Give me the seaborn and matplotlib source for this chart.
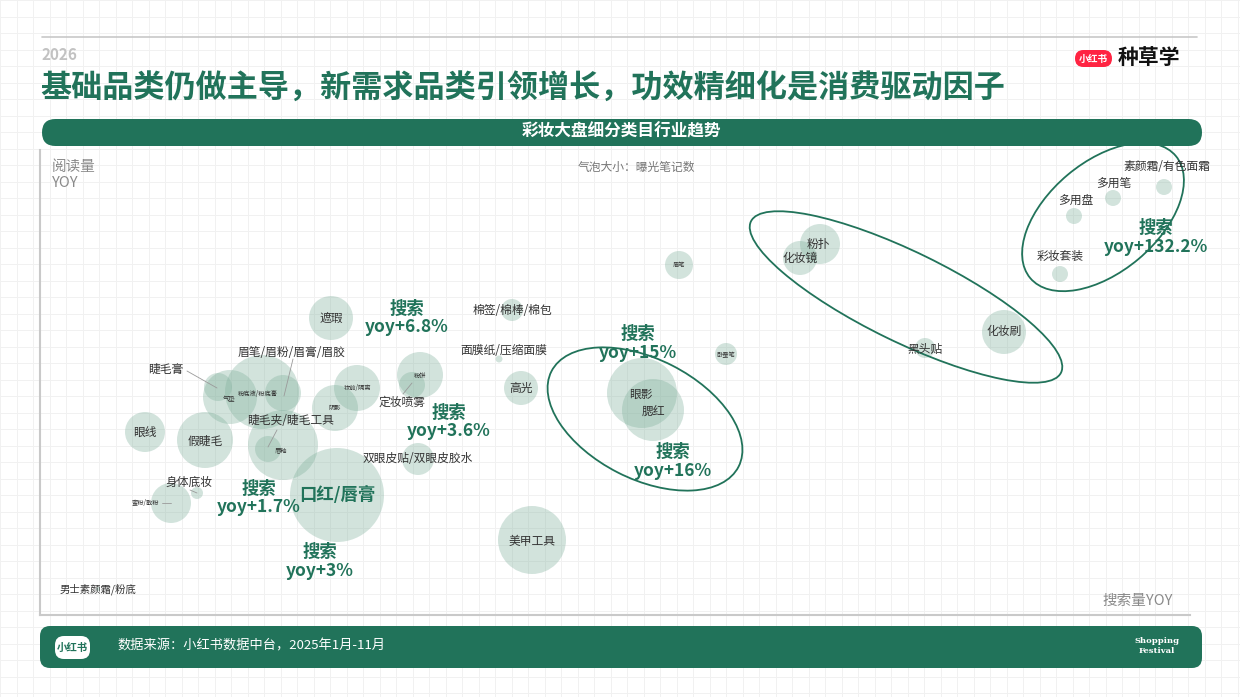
import numpy as np
import pandas as pd
import matplotlib
matplotlib.use('Agg')
import matplotlib.pyplot as plt
from matplotlib.patches import FancyBboxPatch, Ellipse
import seaborn as sns

sns.set_style('white')
plt.rcParams['font.family'] = ['Noto Sans CJK SC', 'DejaVu Sans']

GREEN = '#21735a'
BUBBLE = '#7fb09c'
LABEL = '#333333'

## 数据: 搜索量YOY(横轴), 阅读量YOY(纵轴), 曝光笔记数(气泡面积)
categories = ['遮瑕', '睫毛膏', '气垫', '粉底液/粉底膏', '眉笔/眉粉/眉膏/眉胶', '睫毛夹/睫毛工具',
              '唇釉', '妆前/隔离', '阴影', '粉饼', '定妆喷雾', '眼线', '假睫毛', '双眼皮贴/双眼皮胶水',
              '身体底妆', '蜜粉/散粉', '口红/唇膏', '美甲工具', '高光', '面膜纸/压缩面膜', '棉签/棉棒/棉包',
              '眉笔', '卧蚕笔', '眼影', '腮红', '粉扑', '化妆镜', '黑头贴', '化妆刷',
              '多用盘', '多用笔', '素颜霜/有色面霜', '彩妆套装', '男士素颜霜/粉底']
search_yoy = [291, 178, 190, 222, 243, 243, 228, 317, 295, 380, 372, 105, 165, 378,
              157, 131, 297, 492, 481, 459, 472, 639, 686, 602, 613, 780, 760, 885, 964,
              1034, 1073, 1124, 1020, 58]
read_yoy = [297, 228, 218, 223, 222, 170, 166, 227, 207, 240, 230, 183, 175, 156,
            122, 112, 120, 75, 227, 256, 305, 350, 261, 222, 205, 371, 357, 267, 283,
            399, 417, 428, 341, 26]
exposure = [484, 196, 729, 1369, 324, 1225, 169, 529, 529, 529, 169, 400, 784, 256,
            36, 400, 2209, 1156, 289, 12, 121, 196, 121, 1225, 961, 400, 289, 100, 484,
            64, 64, 64, 64, 4]

df = pd.DataFrame({'品类': categories, '搜索量YOY': search_yoy,
                   '阅读量YOY': read_yoy, '曝光笔记数': exposure})

# 标签位置 (name: x, y, 字号)
label_pos = {
    '遮瑕': (291, 297, 8.5), '睫毛膏': (126, 246, 8.5), '气垫': (189, 216, 4.5),
    '粉底液/粉底膏': (218, 221, 4.5), '眉笔/眉粉/眉膏/眉胶': (252, 262, 8.5),
    '睫毛夹/睫毛工具': (251, 194, 8.5), '唇釉': (241, 165, 4.5), '妆前/隔离': (317, 227, 4.5),
    '阴影': (295, 207, 4.5), '粉饼': (380, 239, 4.5), '定妆喷雾': (362, 213, 8.5),
    '眼线': (105, 183, 8.5), '假睫毛': (165, 174, 8.5), '双眼皮贴/双眼皮胶水': (378, 156, 8.5),
    '身体底妆': (149, 133, 8.5), '蜜粉/散粉': (105, 112, 4.5), '美甲工具': (492, 74, 8.5),
    '高光': (481, 227, 8.5), '面膜纸/压缩面膜': (464, 264, 8.5), '棉签/棉棒/棉包': (472, 305, 8.5),
    '眉笔': (639, 350, 4.5), '卧蚕笔': (686, 260, 4.5), '眼影': (601, 221, 8.5),
    '腮红': (613, 204, 8.5), '粉扑': (778, 371, 8.5), '化妆镜': (760, 357, 8.5),
    '黑头贴': (885, 266, 8.5), '化妆刷': (964, 284, 8.5), '多用盘': (1036, 415, 8.5),
    '多用笔': (1074, 432, 8.5), '素颜霜/有色面霜': (1127, 448, 8.5), '彩妆套装': (1020, 359, 8.5),
    '男士素颜霜/粉底': (58, 26, 7.5),
}
leaders = [((147, 244), (177, 227)), ((253, 256), (244, 219)), ((237, 185), (228, 168)),
           ((372, 232), (363, 221)), ((150, 125), (157, 122)), ((122, 112), (131, 112))]

# 搜索yoy 标注
search_notes = [('6.8%', 367, 297), ('3.6%', 409, 193), ('1.7%', 219, 117), ('3%', 280, 54),
                ('15%', 598, 272), ('16%', 633, 154), ('132.2%', 1116, 378)]
groups = [((605, 196), 210, 120, -27), ((866, 318), 345, 90, -26), ((1063, 398), 190, 110, 40)]

fig = plt.figure(figsize=(12.4, 6.97), dpi=100)

# 背景网格
bg = fig.add_axes([0, 0, 1, 1])
bg.set_xlim(0, 1240)
bg.set_ylim(697, 0)
bg.set_xticks(np.arange(0, 1240, 16.5))
bg.set_yticks(np.arange(0, 697, 16.5))
bg.grid(True, color='#f1f1f1', lw=0.7)
bg.tick_params(length=0, labelbottom=False, labelleft=False)
for s in bg.spines.values():
    s.set_visible(False)

# 页眉
bg.plot([42, 1197], [37, 37], color='#c8c8c8', lw=1.2)
bg.text(42, 55, '2026', fontsize=11, fontweight='bold', color='#c2c2c2', va='center')
bg.text(40, 89, '基础品类仍做主导，新需求品类引领增长，功效精细化是消费驱动因子',
        fontsize=22.4, fontweight='bold', color=GREEN, va='center')
bg.add_patch(FancyBboxPatch((1075, 50), 37, 17, boxstyle='round,pad=0,rounding_size=8.5',
                            fc='#ff2442', ec='none'))
bg.text(1093.5, 58.5, '小红书', fontsize=7, fontweight='bold', color='white', ha='center', va='center')
bg.text(1118, 58, '种草学', fontsize=15, fontweight='bold', color='#111111', va='center')
bg.add_patch(FancyBboxPatch((42, 119), 1160, 27, boxstyle='round,pad=0,rounding_size=13.5',
                            fc=GREEN, ec='none'))
bg.text(621, 132, '彩妆大盘细分类目行业趋势', fontsize=12, fontweight='bold', color='white',
        ha='center', va='center')

# 页脚
bg.add_patch(FancyBboxPatch((40, 626), 1162, 42, boxstyle='round,pad=0,rounding_size=10',
                            fc=GREEN, ec='none'))
bg.add_patch(FancyBboxPatch((55, 636), 35, 23, boxstyle='round,pad=0,rounding_size=9',
                            fc='white', ec='none'))
bg.text(72.5, 647.5, '小红书', fontsize=7.5, fontweight='bold', color=GREEN, ha='center', va='center')
bg.text(117, 646, '数据来源：小红书数据中台，2025年1月-11月', fontsize=9.5, color='white', va='center')
bg.text(1157, 646, 'Shopping\nFestival', fontsize=6, fontweight='bold', color='white',
        family='DejaVu Serif', ha='center', va='center', linespacing=1.3)

bg.text(52, 175, '阅读量\nYOY', fontsize=10.5, color='#8a8a8a', va='center', linespacing=1.1)
bg.text(636, 167, '气泡大小：曝光笔记数', fontsize=8.5, color='#777777', ha='center', va='center')
bg.text(1138, 601, '搜索量YOY', fontsize=10.5, color='#8a8a8a', ha='center', va='center')

# 气泡图
ax = fig.add_axes([40 / 1240, 82 / 697, 1150 / 1240, 465 / 697])
ax.patch.set_alpha(0)
k = 1.44 ** 2
sns.scatterplot(data=df, x='搜索量YOY', y='阅读量YOY', size='曝光笔记数',
                sizes=(k * df['曝光笔记数'].min(), k * df['曝光笔记数'].max()),
                size_norm=(df['曝光笔记数'].min(), df['曝光笔记数'].max()),
                color=BUBBLE, alpha=0.35, linewidth=0, legend=False, ax=ax)
ax.set_xlim(0, 1150)
ax.set_ylim(0, 465)
ax.set_xticks([])
ax.set_yticks([])
ax.set_xlabel('')
ax.set_ylabel('')
for side in ['top', 'right']:
    ax.spines[side].set_visible(False)
for side in ['left', 'bottom']:
    ax.spines[side].set_color('#c9c9c9')
    ax.spines[side].set_linewidth(1.5)

for a, b in leaders:
    ax.plot([a[0], b[0]], [a[1], b[1]], color='#9a9a9a', lw=0.6)

for name, (x, y, fs) in label_pos.items():
    ax.text(x, y, name, fontsize=fs, color=LABEL, ha='center', va='center')
ax.text(297, 120, '口红/唇膏', fontsize=12.5, fontweight='bold', color=GREEN, ha='center', va='center')

for pct, x, y in search_notes:
    ax.text(x, y + 9.5, '搜索', fontsize=12.5, fontweight='bold', color=GREEN, ha='center', va='center')
    ax.text(x, y - 9.5, 'yoy+' + pct, fontsize=12.5, fontweight='bold', color=GREEN,
            ha='center', va='center')

for (cx, cy), w, h, ang in groups:
    ax.add_patch(Ellipse((cx, cy), w, h, angle=ang, fill=False, ec=GREEN, lw=1.3, clip_on=False))

fig.savefig('out.png', dpi=100)
